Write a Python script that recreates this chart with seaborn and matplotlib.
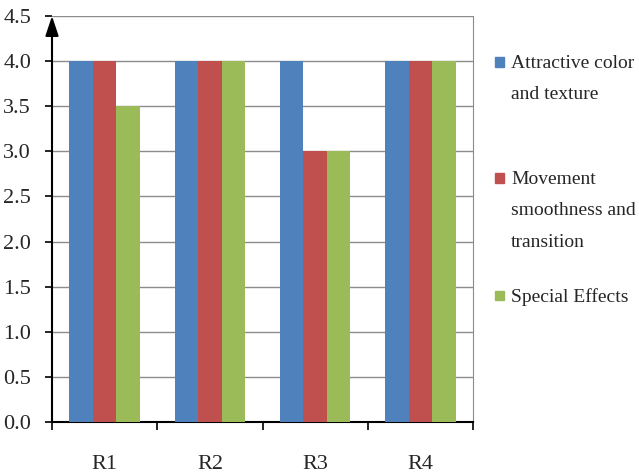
import matplotlib
matplotlib.use("Agg")
import matplotlib.pyplot as plt
import seaborn as sns
import pandas as pd
from matplotlib.patches import Rectangle
from matplotlib.ticker import FixedLocator, FormatStrFormatter

groups = ["R1", "R2", "R3", "R4"]
criteria = ["Attractive color\nand texture",
            "Movement\nsmoothness and\ntransition",
            "Special Effects"]
color_texture = [4.0, 4.0, 4.0, 4.0]
smoothness = [4.0, 4.0, 3.0, 4.0]
special_effects = [3.5, 4.0, 3.0, 4.0]
palette = ["#4F81BD", "#C0504D", "#9BBB59"]

df = pd.DataFrame({
    "group": groups * 3,
    "criterion": [criteria[0]] * 4 + [criteria[1]] * 4 + [criteria[2]] * 4,
    "score": color_texture + smoothness + special_effects,
})

sns.set_style("white")
plt.rcParams['font.family'] = ['Liberation Serif', 'DejaVu Serif']

W, H = 639, 476
fig = plt.figure(figsize=(W / 100, H / 100), dpi=100)
ax = fig.add_axes([52 / W, 1 - 422 / H, 421 / W, 406 / H])

sns.barplot(data=df, x="group", y="score", hue="criterion",
            palette=palette, width=0.67, saturation=1, ax=ax, zorder=3,
            edgecolor="none", legend=False)

ax.set_ylim(0, 4.5)
ax.set_xlim(-0.5, 3.5)
ax.yaxis.set_major_locator(FixedLocator([i * 0.5 for i in range(10)]))
ax.yaxis.set_major_formatter(FormatStrFormatter("%.1f"))
ax.grid(axis="y", color="#8c8c8c", lw=1, zorder=0)
ax.set_xlabel("")
ax.set_ylabel("")

for s in ["top", "left"]:
    ax.spines[s].set_visible(False)
ax.spines["right"].set_color("#8c8c8c")
ax.spines["bottom"].set_color("black")
ax.spines["bottom"].set_linewidth(1.5)

# y axis drawn as an arrow
ax.annotate("", xy=(0, 1), xytext=(0, 0), xycoords="axes fraction",
            arrowprops=dict(arrowstyle="-|>,head_length=0.6,head_width=0.2",
                            color="black", lw=1.5, mutation_scale=20,
                            shrinkA=0, shrinkB=0), annotation_clip=False)

ax.tick_params(axis="y", direction="out", length=5, width=1.2, color="black",
               labelsize=16, left=True, pad=10)
ax.tick_params(axis="x", which="major", length=0, pad=24, labelsize=16)
ax.xaxis.set_minor_locator(FixedLocator([-0.5, 0.5, 1.5, 2.5, 3.5]))
ax.tick_params(axis="x", which="minor", direction="out", length=6,
               width=1.2, color="black", bottom=True)

# legend, Excel style: square key beside the first line of each label
for label, col, yc in zip(criteria, palette, [62, 178, 295]):
    fig.patches.append(Rectangle((495 / W, 1 - (yc + 4.5) / H), 9 / W, 9 / H,
                                 transform=fig.transFigure, color=col))
    fig.text(511 / W, 1 - (yc - 7) / H, label, va="top", ha="left",
             fontsize=14, linespacing=2.1)

fig.savefig("out.png", dpi=100)
